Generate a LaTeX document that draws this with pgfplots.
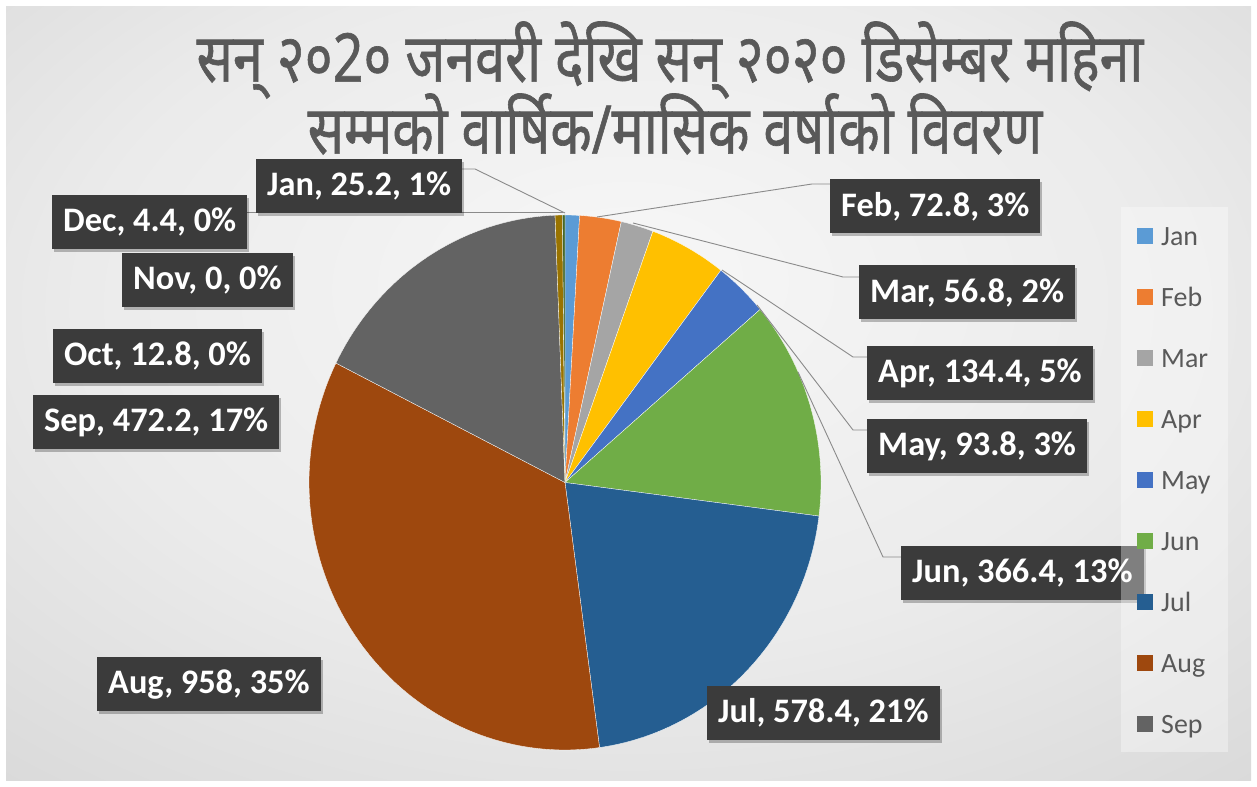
\documentclass[border=0pt]{standalone}
\usepackage{fontspec}
\usepackage{graphicx}
\setmainfont{Carlito}
\newfontfamily\devfont[Script=Devanagari, FakeBold=1.0]{Noto Sans}
\usepackage{pgfplots}
\usepackage{pgfplotstable}
\pgfplotsset{compat=1.18}
\usetikzlibrary{shadows}

\definecolor{c0}{HTML}{5B9BD5}
\definecolor{c1}{HTML}{ED7D31}
\definecolor{c2}{HTML}{A5A5A5}
\definecolor{c3}{HTML}{FFC000}
\definecolor{c4}{HTML}{4472C4}
\definecolor{c5}{HTML}{70AD47}
\definecolor{c6}{HTML}{255E91}
\definecolor{c7}{HTML}{9E480E}
\definecolor{c8}{HTML}{636363}
\definecolor{c9}{HTML}{997300}
\definecolor{c10}{HTML}{264478}
\definecolor{c11}{HTML}{43682B}
\definecolor{labbg}{HTML}{3B3B3B}
\definecolor{txtgray}{HTML}{595959}
\definecolor{leadcol}{HTML}{8A8A8A}
\definecolor{bgA}{HTML}{F7F7F7}
\definecolor{bgB}{HTML}{EBEBEB}
\definecolor{bgC}{HTML}{D3D3D3}
\definecolor{bgD}{HTML}{C2C2C2}

\pgfdeclareradialshading{bgshade}{\pgfpoint{0bp}{8bp}}{color(0bp)=(bgA); color(22bp)=(bgB); color(45bp)=(bgC); color(75bp)=(bgD)}

\pgfplotstableread{
month value
Jan 25.2
Feb 72.8
Mar 56.8
Apr 134.4
May 93.8
Jun 366.4
Jul 578.4
Aug 958
Sep 472.2
Oct 12.8
Nov 0
Dec 4.4
}\raindata

\tikzset{lab/.style={fill=labbg, text=white, font=\fontsize{34.5}{36}\selectfont\bfseries,
  inner xsep=11bp, minimum height=54bp, anchor=west,
  drop shadow={shadow xshift=2bp, shadow yshift=-3bp, fill=black, opacity=0.25}}}
\newcommand{\titletext}[1]{\scalebox{1}[1.25]{\devfont\fontsize{54}{60}\selectfont #1}}

\begin{document}
\begin{tikzpicture}
\gdef\total{0}
\foreach \i in {0,...,11}{%
  \pgfplotstablegetelem{\i}{value}\of\raindata
  \pgfmathsetmacro\tmp{\total+\pgfplotsretval}%
  \xdef\total{\tmp}%
}
\gdef\cum{0}
\foreach \i in {0,...,11}{%
  \pgfplotstablegetelem{\i}{value}\of\raindata
  \edef\v{\pgfplotsretval}%
  \pgfmathsetmacro\hi{90-360*(\cum/\total)}%
  \pgfmathsetmacro\newcum{\cum+\v}%
  \pgfmathsetmacro\lo{90-360*(\newcum/\total)}%
  \pgfmathtruncatemacro\ns{max(3,(\hi-\lo)/1.5+2)}%
  \expandafter\xdef\csname sa\i\endcsname{\lo}%
  \expandafter\xdef\csname ea\i\endcsname{\hi}%
  \expandafter\xdef\csname sm\i\endcsname{\ns}%
  \expandafter\xdef\csname va\i\endcsname{\v}%
  \xdef\cum{\newcum}%
}
\fill[white] (0,0) rectangle (1257bp,787bp);
\shade[shading=bgshade] (6bp,6bp) rectangle (1251bp,780bp);
\begin{axis}[at={(0,0)}, anchor=origin, scale only axis,
  width=1257bp, height=787bp, xmin=0, xmax=1257, ymin=0, ymax=787,
  hide axis, clip=false,
  legend style={at={(axis cs:1137,562)}, anchor=north west, draw=none, fill=none,
    inner sep=0pt, row sep=35bp, column sep=8bp,
    font=\fontsize{28}{30}\selectfont, text=txtgray,
    nodes={inner sep=0pt, text height=20bp, text depth=6bp, anchor=base west}},
  legend cell align=left,
  legend image code/.code={\fill[#1, draw=none] (0bp,1.5bp) rectangle (16bp,17.5bp);},
]
\pgfplotsinvokeforeach{0,...,11}{%
  \ifdim\csname va#1\endcsname pt>0pt
    \edef\temp{\noexpand\addplot[fill=c#1, draw=white, line width=0.3bp,
      domain=\csname sa#1\endcsname:\csname ea#1\endcsname,
      samples=\csname sm#1\endcsname]
      ({565+256*cos(x)},{304.5+267.5*sin(x)}) -- (axis cs:565,304.5) -- cycle;}%
    \temp
  \fi
}
\legend{Jan,Feb,Mar,Apr,May,Jun,Jul,Aug,Sep}

% leader lines
\addplot[forget plot, leadcol, line width=0.9bp] coordinates {(245,575) (563,575)};
\addplot[forget plot, leadcol, line width=0.9bp] coordinates {(461,618) (475,618) (565,574)};
\addplot[forget plot, leadcol, line width=0.9bp] coordinates {(830,603) (812,603) (597,570)};
\addplot[forget plot, leadcol, line width=0.9bp] coordinates {(859,510) (843,510) (633,564)};
\addplot[forget plot, leadcol, line width=0.9bp] coordinates {(867,430) (853,430) (722,517)};
\addplot[forget plot, leadcol, line width=0.9bp] coordinates {(867,357) (853,357) (757,482)};
\addplot[forget plot, leadcol, line width=0.9bp] coordinates {(901,230) (883,230) (798,415)};

% labels
\node[lab] at (axis cs:256,601) {Jan, 25.2, 1\%};
\node[lab] at (axis cs:52,565) {Dec, 4.4, 0\%};
\node[lab] at (axis cs:122,507) {Nov, 0, 0\%};
\node[lab] at (axis cs:53,431) {Oct, 12.8, 0\%};
\node[lab] at (axis cs:33,365) {Sep, 472.2, 17\%};
\node[lab] at (axis cs:97,102.5) {Aug, 958, 35\%};
\node[lab] at (axis cs:707,74) {Jul, 578.4, 21\%};
\node[lab] at (axis cs:901,214) {Jun, 366.4, 13\%};
\node[lab] at (axis cs:867,341) {May, 93.8, 3\%};
\node[lab] at (axis cs:867,413.5) {Apr, 134.4, 5\%};
\node[lab] at (axis cs:859,494.5) {Mar, 56.8, 2\%};
\node[lab] at (axis cs:830,580.5) {Feb, 72.8, 3\%};

% legend panel
\fill[white, opacity=0.35] (axis cs:1121,35) rectangle (axis cs:1228,580);

% title
\node[text=txtgray, inner sep=0pt] at (axis cs:670,727) {\titletext{सन् २०2० जनवरी देखि सन् २०२० डिसेम्बर महिना}};
\node[text=txtgray, inner sep=0pt] at (axis cs:675,663) {\titletext{सम्मको वार्षिक/मासिक वर्षाको विवरण}};
\end{axis}
\end{tikzpicture}
\end{document}
